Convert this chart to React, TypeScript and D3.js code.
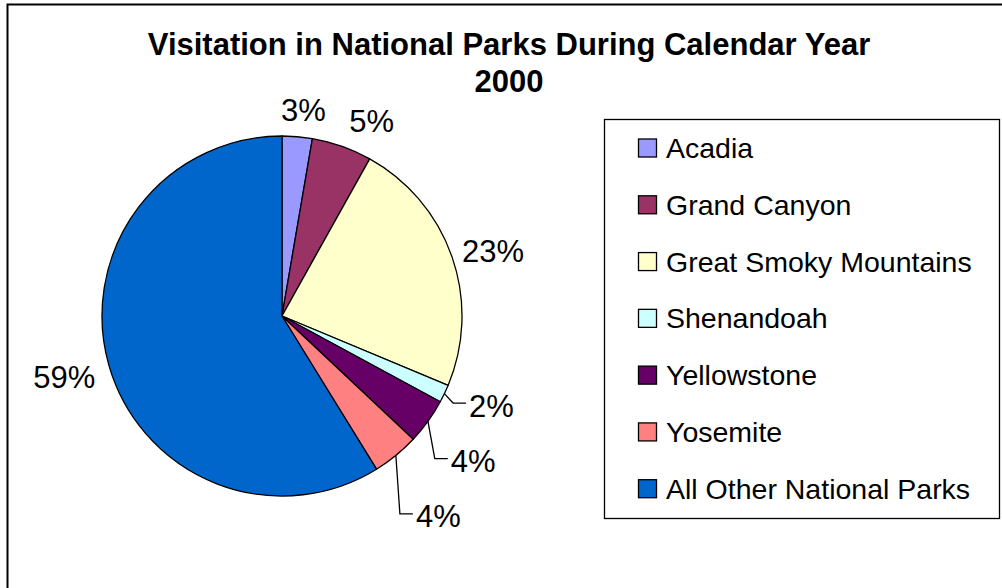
import React from 'react';
import * as d3 from 'd3';

const categories = [
  'Acadia',
  'Grand Canyon',
  'Great Smoky Mountains',
  'Shenandoah',
  'Yellowstone',
  'Yosemite',
  'All Other National Parks',
];
const shares = [2.7, 5.4, 23.2, 1.6, 4.1, 4.2, 58.8];
const colors = ['#9999FF', '#993366', '#FFFFCC', '#CCFFFF', '#660066', '#FF8080', '#0066CC'];
const titleLines = ['Visitation in National Parks During Calendar Year', '2000'];

// layout
const hasLeader = [false, false, false, true, true, true, false];
const labelNudge: [number, number][] = [
  [3, 12], [17, 11], [5, 7], [-25.6, -7], [-24, 15], [-20, 29], [-8, 2],
];

const W = 1002, H = 588;
const FONT = '"Liberation Sans", Arial, Helvetica, sans-serif';

export default function App() {
  const cx = 282, cy = 316, r = 180, labelR = 218;
  const total = d3.sum(shares);
  const pie = d3.pie<number>().sort(null).value((d) => d);
  const arcs = pie(shares);
  const arcGen = d3.arc<d3.PieArcDatum<number>>().innerRadius(0).outerRadius(r);
  const fmt = d3.format('.0%');

  const legendX = 604, legendY = 119, legendW = 395, legendH = 399;
  const itemY = d3.scalePoint<string>().domain(categories).range([148, 488.7]);

  return (
    <svg width={W} height={H} style={{ position: 'absolute', left: 0, top: 0, background: '#fff' }} fontFamily={FONT}>
      <rect x={0} y={0} width={W} height={H} fill="#fff" />
      <path d={`M7.5,${H} V4.5 H${W}`} fill="none" stroke="#000" strokeWidth={2} />
      {titleLines.map((t, i) => (
        <text key={i} x={509} y={44 + i * 37} textAnchor="middle" dominantBaseline="central"
          fontSize={31} fontWeight="bold" fill="#000">{t}</text>
      ))}
      <g transform={`translate(${cx},${cy})`}>
        {arcs.map((a, i) => (
          <path key={i} d={arcGen(a) || ''} fill={colors[i]} stroke="#000" strokeWidth={1.3} strokeLinejoin="round" />
        ))}
        {arcs.map((a, i) => {
          const mid = (a.startAngle + a.endAngle) / 2;
          const lx = Math.sin(mid) * labelR + labelNudge[i][0];
          const ly = -Math.cos(mid) * labelR + labelNudge[i][1];
          const txt = fmt(shares[i] / total);
          if (hasLeader[i]) {
            const ex = Math.sin(mid) * r, ey = -Math.cos(mid) * r;
            return (
              <g key={i}>
                <path d={`M${ex},${ey} L${lx},${ly} H${lx + 13}`} fill="none" stroke="#000" strokeWidth={1.3} />
                <text x={lx + 16} y={ly + 3} dominantBaseline="central" fontSize={31} fill="#000">{txt}</text>
              </g>
            );
          }
          return (
            <text key={i} x={lx} y={ly} textAnchor="middle" dominantBaseline="central" fontSize={31} fill="#000">{txt}</text>
          );
        })}
      </g>
      <rect x={legendX + 0.5} y={legendY + 0.5} width={legendW} height={legendH} fill="#fff" stroke="#000" strokeWidth={1.3} />
      {categories.map((c, i) => {
        const y = itemY(c)!;
        return (
          <g key={c}>
            <rect x={638.5} y={y - 9} width={18} height={18} fill={colors[i]} stroke="#000" strokeWidth={1.3} />
            <text x={666} y={y} dominantBaseline="central" fontSize={28.5} fill="#000">{c}</text>
          </g>
        );
      })}
    </svg>
  );
}
